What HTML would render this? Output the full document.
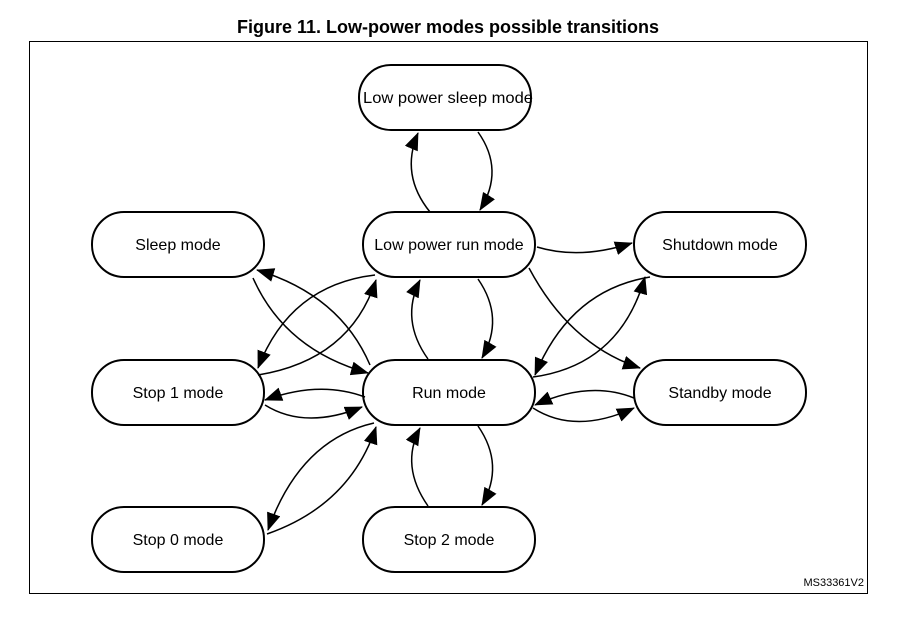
<!DOCTYPE html>
<html><head><style>body{margin:0;background:#fff}</style></head><body>
<svg width="919" height="631" xmlns="http://www.w3.org/2000/svg" font-family="Liberation Sans, Arial, sans-serif">
<defs><marker id="a" markerWidth="18" markerHeight="14" refX="17" refY="7" orient="auto" markerUnits="userSpaceOnUse"><path d="M0,0 L18,7 L0,14 z" fill="#000"/></marker></defs>
<rect width="919" height="631" fill="#fff"/>
<text x="448" y="33" text-anchor="middle" font-size="18" font-weight="bold">Figure 11. Low-power modes possible transitions</text>
<rect x="29.5" y="41.5" width="838" height="552" fill="none" stroke="#000" stroke-width="1"/>
<g fill="#fff" stroke="#000" stroke-width="2">
<rect x="359" y="65" width="172" height="65" rx="32"/>
<rect x="363" y="212" width="172" height="65" rx="32"/>
<rect x="363" y="360" width="172" height="65" rx="32"/>
<rect x="363" y="507" width="172" height="65" rx="32"/>
<rect x="92" y="212" width="172" height="65" rx="32"/>
<rect x="92" y="360" width="172" height="65" rx="32"/>
<rect x="92" y="507" width="172" height="65" rx="32"/>
<rect x="634" y="212" width="172" height="65" rx="32"/>
<rect x="634" y="360" width="172" height="65" rx="32"/>
</g>
<g font-size="16" text-anchor="middle">
<text x="448" y="103" textLength="170" lengthAdjust="spacingAndGlyphs">Low power sleep mode</text>
<text x="449" y="250">Low power run mode</text>
<text x="449" y="398">Run mode</text>
<text x="449" y="545">Stop 2 mode</text>
<text x="178" y="250">Sleep mode</text>
<text x="178" y="398">Stop 1 mode</text>
<text x="178" y="545">Stop 0 mode</text>
<text x="720" y="250">Shutdown mode</text>
<text x="720" y="398">Standby mode</text>
</g>
<text x="864" y="586" font-size="11" text-anchor="end">MS33361V2</text>
<g fill="none" stroke="#000" stroke-width="1.5" marker-end="url(#a)">
<path d="M430,212 Q400,175 418,133"/>
<path d="M478,132 Q505,170 480,210"/>
<path d="M428,359 Q400,320 420,280"/>
<path d="M478,279 Q505,318 482,358"/>
<path d="M428,506 Q400,466 420,428"/>
<path d="M478,426 Q505,465 482,505"/>
<path d="M253,278 Q285,350 368,373"/>
<path d="M370,365 Q340,295 257,270"/>
<path d="M258,375 Q350,360 376,280"/>
<path d="M375,275 Q290,285 258,368"/>
<path d="M365,397 Q320,380 265,400"/>
<path d="M265,405 Q305,430 362,407"/>
<path d="M267,534 Q350,505 376,427"/>
<path d="M374,423 Q300,440 268,530"/>
<path d="M537,247 Q580,260 632,243"/>
<path d="M529,268 Q570,345 640,368"/>
<path d="M533,377 Q620,365 645,277"/>
<path d="M650,277 Q570,290 535,375"/>
<path d="M634,398 Q590,380 535,405"/>
<path d="M533,408 Q575,435 634,408"/>
</g>
</svg>
</body></html>
